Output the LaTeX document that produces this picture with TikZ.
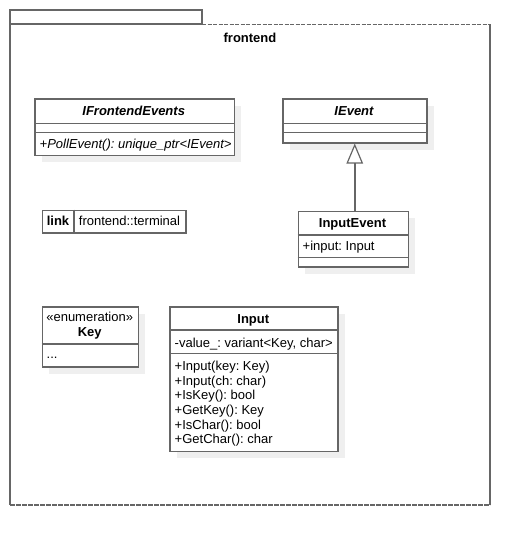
\documentclass[tikz,border=0pt]{standalone}
\usepackage{fontspec}
\setmainfont{Liberation Sans}
\frenchspacing
\usetikzlibrary{arrows.meta,shadows,calc}
\definecolor{bord}{HTML}{666666}
\definecolor{shad}{HTML}{EFEFEF}
\tikzset{
  bordline/.style={draw=bord, line width=1.5pt},
  classbox/.style={bordline, fill=white, rectangle, inner sep=0pt, anchor=north west,
    drop shadow={shadow xshift=7pt, shadow yshift=-7pt, fill=shad, opacity=1}},
  plainbox/.style={bordline, fill=white, rectangle, inner sep=0pt, anchor=north west},
  txt/.style={inner sep=0pt, text height=9.3pt, text depth=0pt, font=\fontsize{13}{14.7}\selectfont},
  ltxt/.style={txt, anchor=west},
  btxt/.style={txt, font=\fontsize{13}{14.7}\selectfont\bfseries},
  bitxt/.style={txt, font=\fontsize{13}{14.7}\selectfont\bfseries\itshape},
}
\begin{document}
\begin{tikzpicture}[x=1pt,y=-1pt]
\useasboundingbox (0,0) rectangle (530,546);
% package
\coordinate (tabnw) at (10,10);
\coordinate (tabse) at (202,24);
\coordinate (pnw) at (10,24);
\coordinate (pne) at (490,24);
\coordinate (psw) at (10,505);
\coordinate (pse) at (490,505);
\draw[bordline, line width=1.3pt] (tabnw |- tabse) -- (tabnw) -| (tabse);
\draw[bordline, line width=1.3pt] (tabse) -- (pnw) -- (psw);
\draw[bordline, line width=1.3pt] (pne) -- (pse);
\draw[draw=bord, line width=1pt, dash pattern=on 4pt off 1.5pt] (tabse) -- (pne);
\draw[draw=bord, line width=1.3pt, dash pattern=on 5pt off 1pt] (psw) -- (pse);
\node[btxt] (pkgname) at (250,37.5) {frontend};

% IFrontendEvents
\node[classbox, minimum width=199.5pt, minimum height=56.5pt] (ife) at (34,98) {};
\draw[bordline] ($(ife.north west)+(0,25.3)$) -- ($(ife.north east)+(0,25.3)$);
\draw[bordline] ($(ife.north west)+(0,34.7)$) -- ($(ife.north east)+(0,34.7)$);
\node[bitxt] (ifet) at (133.7,110.7) {IFrontendEvents};
\node[ltxt, font=\fontsize{13}{14.7}\selectfont\itshape] (ifem) at (39.5,143.5) {+PollEvent(): unique\_ptr<IEvent>};

% IEvent
\node[classbox, minimum width=144pt, minimum height=44pt] (ie) at (282,98) {};
\draw[bordline] ($(ie.north west)+(0,25.3)$) -- ($(ie.north east)+(0,25.3)$);
\draw[bordline] ($(ie.north west)+(0,34.7)$) -- ($(ie.north east)+(0,34.7)$);
\node[bitxt] (iet) at (354,110.7) {IEvent};

% InputEvent
\node[classbox, minimum width=110pt, minimum height=55.5pt] (iev) at (297.5,210.5) {};
\draw[bordline] ($(iev.north west)+(0,24.5)$) -- ($(iev.north east)+(0,24.5)$);
\draw[bordline] ($(iev.north west)+(0,47.2)$) -- ($(iev.north east)+(0,47.2)$);
\node[btxt] (ievt) at (352.5,222.7) {InputEvent};
\node[ltxt] (ieva) at (302.5,245.7) {+input: Input};

% generalization
\draw[bordline, -{Triangle[length=20pt, width=16.5pt, fill=white, line width=1.2pt]}] (ie.south |- iev.north) -- (ie.south);

% link
\node[plainbox, minimum width=143.5pt, minimum height=22.5pt] (lnk) at (41.7,209.5) {};
\draw[bordline] (74,209.5) coordinate (lnkdiv) -- (lnkdiv |- lnk.south);
\node[btxt] (lnkk) at (58,221) {link};
\node[txt] (lnkv) at (129.5,221) {frontend::terminal};

% Key enumeration
\node[classbox, minimum width=96pt, minimum height=60pt] (key) at (41.7,306) {};
\draw[bordline] ($(key.north west)+(0,38)$) -- ($(key.north east)+(0,38)$);
\node[txt] (keys) at (89.7,317.3) {«enumeration»};
\node[btxt] (keyt) at (89.7,331.7) {Key};
\node[ltxt] (keyd) at (46.5,353.5) {...};

% Input
\node[classbox, minimum width=168pt, minimum height=144.5pt] (inp) at (169.3,306) {};
\draw[bordline] ($(inp.north west)+(0,24)$) -- ($(inp.north east)+(0,24)$);
\draw[bordline] ($(inp.north west)+(0,47.7)$) -- ($(inp.north east)+(0,47.7)$);
\node[btxt] (inpt) at (253.3,319) {Input};
\node[ltxt] (inpa) at (174.5,343) {-value\_: variant<Key, char>};
\foreach \t [count=\i from 0] in {+Input(key: Key),+Input(ch: char),+IsKey(): bool,+GetKey(): Key,+IsChar(): bool,+GetChar(): char}
  \node[ltxt] (inpm\i) at (174.5,365.7+14.7*\i) {\t};
\end{tikzpicture}
\end{document}
